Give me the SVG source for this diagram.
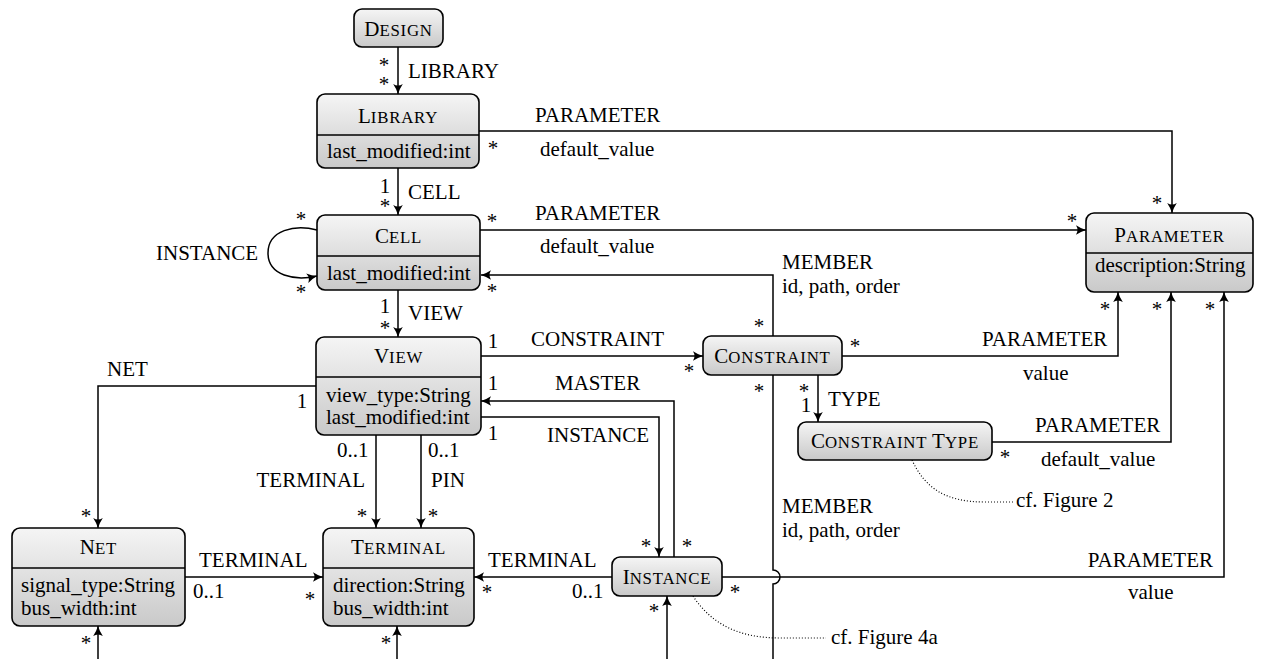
<svg xmlns="http://www.w3.org/2000/svg" width="1261" height="659" viewBox="0 0 1261 659">
<style>
text{font-family:"Liberation Serif","Times New Roman",serif;font-size:21px;fill:#000}
.sc{font-size:16.8px;letter-spacing:0.8px}
.m{text-anchor:middle}
.e{text-anchor:end}
.box{fill:url(#g);stroke:#000;stroke-width:1.6}
.div{stroke:#000;stroke-width:1.6}
.c path{fill:none;stroke:#000;stroke-width:1.5}
.c path.a{marker-end:url(#arr)}
.c path.dot{stroke-width:1.2;stroke-dasharray:1 2}
</style>
<defs>
<linearGradient id="g" x1="0" y1="0" x2="0" y2="1">
<stop offset="0" stop-color="#f5f5f5"/>
<stop offset="1" stop-color="#c9c9c9"/>
</linearGradient>
<marker id="arr" viewBox="-11 -6 12 12" refX="0" refY="0" markerWidth="12" markerHeight="12" markerUnits="userSpaceOnUse" orient="auto">
<path d="M0,0 Q-5,-1.5 -10,-4.8 Q-7,0 -10,4.8 Q-5,1.5 0,0Z" fill="#000"/>
</marker>
</defs>
<rect width="1261" height="659" fill="#fff"/>

<g class="c" id="connectors">
<path class="a" d="M398,47 L398,94"/>
<path class="a" d="M398,168 L398,215"/>
<path class="a" d="M398,290 L398,337"/>
<path class="a" d="M479,131 L1172,131 L1172,213"/>
<path class="a" d="M480,230 L1086,230"/>
<path class="a" d="M773,336 L773,275 L481,275"/>
<path class="a" d="M317,230 C295,224 268,230 268,253 C268,276 295,281 317,276"/>
<path class="a" d="M481,356 L703,356"/>
<path class="a" d="M842,356 L1118,356 L1118,292"/>
<path class="a" d="M818,375 L818,422"/>
<path class="a" d="M992,442 L1171,442 L1171,292"/>
<path class="a" d="M722,577 L1224,577 L1224,292"/>
<path class="a" d="M316,386 L98,386 L98,528"/>
<path class="a" d="M376,435 L376,528"/>
<path class="a" d="M421,435 L421,528"/>
<path class="a" d="M185,577 L323,577"/>
<path class="a" d="M612,577 L474,577"/>
<path class="a" d="M481,417 L659,417 L659,557"/>
<path class="a" d="M674,557 L674,401 L481,401"/>
<path d="M773,375 L773,570 A7,7 0 0 1 773,584 L773,659"/>
<path class="a" d="M98,659 L98,626"/>
<path class="a" d="M397,659 L397,626"/>
<path class="a" d="M667,659 L667,596"/>
<path class="dot" d="M912,460 C925,488 945,502 985,502 L1013,502"/>
<path class="dot" d="M693,596 C712,625 740,638 780,638 L826,638"/>
</g>

<g id="labels">
<text class="m" x="384" y="72">*</text>
<text class="m" x="384" y="91">*</text>
<text x="408" y="78">LIBRARY</text>
<text class="m" x="385" y="193">1</text>
<text class="m" x="385" y="213">*</text>
<text x="408" y="199">CELL</text>
<text class="m" x="385" y="313">1</text>
<text class="m" x="385" y="335">*</text>
<text x="408" y="320">VIEW</text>
<text class="m" x="493" y="155">*</text>
<text x="535" y="122">PARAMETER</text>
<text x="540" y="156">default_value</text>
<text class="m" x="1157" y="210">*</text>
<text class="m" x="492" y="228">*</text>
<text x="535" y="220">PARAMETER</text>
<text x="540" y="253">default_value</text>
<text class="m" x="1072" y="228">*</text>
<text class="m" x="301" y="226">*</text>
<text class="m" x="301" y="299">*</text>
<text x="156" y="260">INSTANCE</text>
<text class="m" x="492" y="298">*</text>
<text x="782" y="269">MEMBER</text>
<text x="782" y="293">id, path, order</text>
<text class="m" x="759" y="333">*</text>
<text class="m" x="493" y="348">1</text>
<text x="531" y="346">CONSTRAINT</text>
<text class="m" x="689" y="378">*</text>
<text class="m" x="493" y="390">1</text>
<text x="555" y="390">MASTER</text>
<text class="m" x="493" y="440">1</text>
<text x="547" y="442">INSTANCE</text>
<text class="m" x="855" y="353">*</text>
<text x="982" y="346">PARAMETER</text>
<text x="1023" y="380">value</text>
<text class="m" x="759" y="398">*</text>
<text class="m" x="804" y="398">*</text>
<text class="m" x="806" y="412">1</text>
<text x="828" y="406">TYPE</text>
<text class="m" x="1105" y="316">*</text>
<text class="m" x="1157" y="316">*</text>
<text class="m" x="1210" y="316">*</text>
<text class="m" x="1005" y="464">*</text>
<text x="1035" y="432">PARAMETER</text>
<text x="1041" y="466">default_value</text>
<text x="107" y="376">NET</text>
<text class="m" x="302" y="408">1</text>
<text x="337" y="457">0..1</text>
<text x="428" y="457">0..1</text>
<text class="e" x="365" y="487">TERMINAL</text>
<text x="431" y="487">PIN</text>
<text class="m" x="86" y="523">*</text>
<text class="m" x="362" y="523">*</text>
<text class="m" x="433" y="523">*</text>
<text x="199" y="567">TERMINAL</text>
<text x="193" y="598">0..1</text>
<text class="m" x="310" y="606">*</text>
<text x="488" y="567">TERMINAL</text>
<text x="572" y="598">0..1</text>
<text class="m" x="487" y="599">*</text>
<text class="m" x="646" y="553">*</text>
<text class="m" x="687" y="553">*</text>
<text class="m" x="735" y="599">*</text>
<text class="m" x="654" y="618">*</text>
<text x="782" y="513">MEMBER</text>
<text x="782" y="537">id, path, order</text>
<text class="e" x="1213" y="567">PARAMETER</text>
<text x="1128" y="599">value</text>
<text x="1016" y="507">cf. Figure 2</text>
<text x="831" y="644">cf. Figure 4a</text>
<text class="m" x="86" y="650">*</text>
<text class="m" x="386" y="650">*</text>
</g>

<g id="design">
<rect class="box" x="354" y="9" width="89" height="38" rx="8"/>
<text class="m" x="398.5" y="36">D<tspan class="sc">ESIGN</tspan></text>
</g>
<g id="library">
<rect class="box" x="317" y="94" width="162" height="74" rx="8"/>
<line class="div" x1="317" y1="135" x2="479" y2="135"/>
<text class="m" x="398" y="123">L<tspan class="sc">IBRARY</tspan></text>
<text x="327" y="158">last_modified:int</text>
</g>
<g id="cell">
<rect class="box" x="317" y="215" width="163" height="75" rx="8"/>
<line class="div" x1="317" y1="256" x2="480" y2="256"/>
<text class="m" x="398.5" y="243">C<tspan class="sc">ELL</tspan></text>
<text x="327" y="280">last_modified:int</text>
</g>
<g id="view">
<rect class="box" x="316" y="337" width="165" height="98" rx="8"/>
<line class="div" x1="316" y1="377" x2="481" y2="377"/>
<text class="m" x="398.5" y="363">V<tspan class="sc">IEW</tspan></text>
<text x="326" y="402">view_type:String</text>
<text x="326" y="424">last_modified:int</text>
</g>
<g id="parameter">
<rect class="box" x="1086" y="213" width="167" height="79" rx="8"/>
<line class="div" x1="1086" y1="253" x2="1253" y2="253"/>
<text class="m" x="1169.5" y="242">P<tspan class="sc">ARAMETER</tspan></text>
<text x="1095" y="272">description:String</text>
</g>
<g id="constraint">
<rect class="box" x="703" y="336" width="139" height="39" rx="8"/>
<text class="m" x="772.5" y="363">C<tspan class="sc">ONSTRAINT</tspan></text>
</g>
<g id="constraint-type">
<rect class="box" x="798" y="422" width="194" height="38" rx="8"/>
<text class="m" x="895" y="448">C<tspan class="sc">ONSTRAINT</tspan> T<tspan class="sc">YPE</tspan></text>
</g>
<g id="net">
<rect class="box" x="12" y="528" width="173" height="98" rx="8"/>
<line class="div" x1="12" y1="568" x2="185" y2="568"/>
<text class="m" x="98.5" y="554">N<tspan class="sc">ET</tspan></text>
<text x="21" y="592">signal_type:String</text>
<text x="21" y="615">bus_width:int</text>
</g>
<g id="terminal">
<rect class="box" x="323" y="528" width="151" height="98" rx="8"/>
<line class="div" x1="323" y1="568" x2="474" y2="568"/>
<text class="m" x="398.5" y="554">T<tspan class="sc">ERMINAL</tspan></text>
<text x="333" y="592">direction:String</text>
<text x="333" y="615">bus_width:int</text>
</g>
<g id="instance">
<rect class="box" x="612" y="557" width="110" height="39" rx="8"/>
<text class="m" x="667" y="584">I<tspan class="sc">NSTANCE</tspan></text>
</g>
</svg>
